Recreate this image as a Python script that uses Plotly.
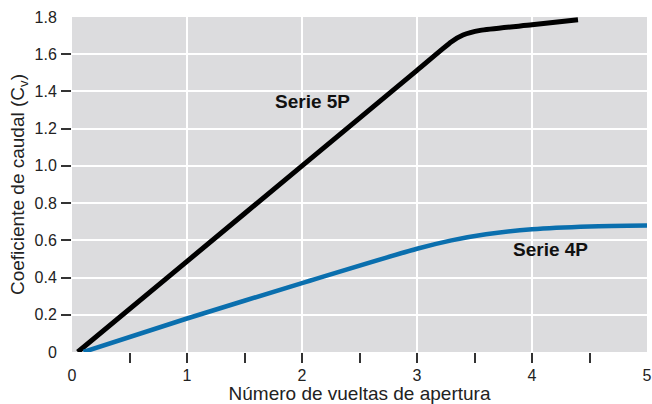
import plotly.graph_objects as go

# Data
turns_5p = [0.05, 1.0, 2.0, 3.0, 3.3, 3.4, 3.55, 4.0, 4.4]
cv_5p = [0.0, 0.487, 1.0, 1.513, 1.667, 1.703, 1.728, 1.758, 1.785]

turns_4p = [0.1, 1.0, 2.0, 3.0, 3.3, 3.6, 4.0, 4.5, 5.0]
cv_4p = [0.0, 0.18, 0.37, 0.555, 0.60, 0.633, 0.66, 0.675, 0.68]

x_label_vals = [0, 1, 2, 3, 4, 5]
x_label_text = ["0", "1", "2", "3", "4", "5"]
x_tick_marks = [0.5, 1, 1.5, 2, 2.5, 3, 3.5, 4, 4.5]

y_label_vals = [0, 0.2, 0.4, 0.6, 0.8, 1.0, 1.2, 1.4, 1.6, 1.8]
y_label_text = ["0", "0.2", "0.4", "0.6", "0.8", "1.0", "1.2", "1.4", "1.6", "1.8"]
y_tick_marks = [0.2, 0.4, 0.6, 0.8, 1.0, 1.2, 1.4, 1.6]

FONT = "Liberation Sans, Arial, sans-serif"

fig = go.Figure()
fig.add_trace(go.Scatter(x=turns_5p, y=cv_5p, mode="lines",
                         line=dict(color="#000000", width=5, shape="spline", smoothing=0.6),
                         showlegend=False, hoverinfo="skip"))
fig.add_trace(go.Scatter(x=turns_4p, y=cv_4p, mode="lines",
                         line=dict(color="#0a6fae", width=4.5, shape="spline", smoothing=0.8),
                         showlegend=False, hoverinfo="skip"))
# invisible trace to activate overlay axes
fig.add_trace(go.Scatter(x=[0], y=[0], xaxis="x2", yaxis="y2", mode="markers",
                         marker=dict(opacity=0), showlegend=False, hoverinfo="skip"))

fig.add_annotation(x=2.09, y=1.344, text="<b>Serie 5P</b>", showarrow=False,
                   font=dict(family=FONT, size=19, color="#111"))
fig.add_annotation(x=4.16, y=0.55, text="<b>Serie 4P</b>", showarrow=False,
                   font=dict(family=FONT, size=19, color="#111"))

fig.update_layout(
    width=652, height=404,
    margin=dict(l=72, r=5, t=17, b=52),
    paper_bgcolor="white",
    plot_bgcolor="#dcdcde",
    font=dict(family=FONT, size=16, color="#222"),
    xaxis=dict(range=[0, 5], tickvals=x_label_vals, ticktext=x_label_text,
               ticks="outside", ticklen=9, tickcolor="rgba(0,0,0,0)",
               showgrid=True, gridcolor="white", gridwidth=1.5,
               zeroline=False, showline=False, automargin=False,
               title=dict(text="Número de vueltas de apertura", standoff=1,
                          font=dict(size=19))),
    yaxis=dict(range=[0, 1.8], tickvals=y_label_vals, ticktext=y_label_text,
               ticks="outside", ticklen=11, tickcolor="rgba(0,0,0,0)",
               showgrid=True, gridcolor="white", gridwidth=1.5,
               zeroline=False, showline=False, automargin=False,
               title=dict(text="Coeficiente de caudal (C<sub>v</sub>)", standoff=4,
                          font=dict(size=19))),
    xaxis2=dict(range=[0, 5], overlaying="x", side="bottom", anchor="y",
                tickvals=x_tick_marks, ticks="outside", ticklen=10, tickwidth=1.5,
                tickcolor="#333", showticklabels=False, showgrid=False,
                zeroline=False, showline=False, automargin=False),
    yaxis2=dict(range=[0, 1.8], overlaying="y", side="left", anchor="x",
                tickvals=y_tick_marks, ticks="outside", ticklen=10, tickwidth=1.5,
                tickcolor="#333", showticklabels=False, showgrid=False,
                zeroline=False, showline=False, automargin=False),
)

fig.write_html("out.html", config={"displayModeBar": False},
               post_script="document.body.style.margin='0';document.body.style.overflow='hidden';")
